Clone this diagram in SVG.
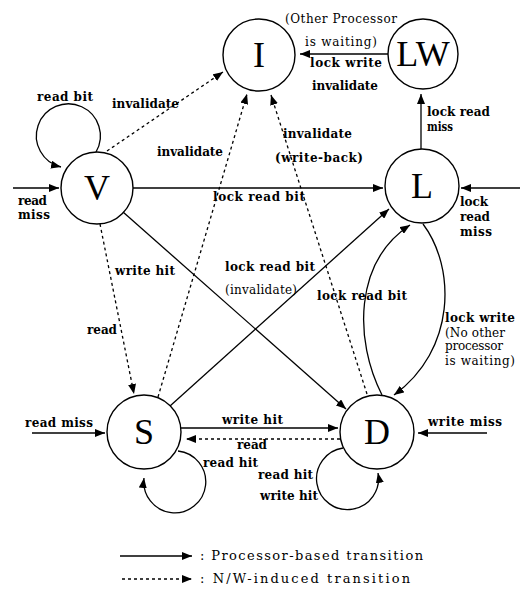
<svg xmlns="http://www.w3.org/2000/svg" width="520" height="593" viewBox="0 0 520 593">
<style>
.n circle{fill:none;stroke:#000;stroke-width:1.4}
.nt{font-family:"Liberation Serif",serif;font-size:36px;text-anchor:middle;fill:#000}
.e{fill:none;stroke:#000;stroke-width:1.3}
.d{stroke-dasharray:3 3}
.lb{font-family:"DejaVu Serif","Liberation Serif",serif;font-weight:bold;font-size:12px;fill:#000}
.ln{font-family:"DejaVu Serif","Liberation Serif",serif;font-size:12px;fill:#000}
.lg{font-family:"DejaVu Serif","Liberation Serif",serif;font-size:13px;fill:#000}
</style>
<defs>
<marker id="ah" viewBox="0 0 10 8" refX="10" refY="4" markerWidth="10" markerHeight="8" markerUnits="userSpaceOnUse" orient="auto"><path d="M0,0 L10,4 L0,8 z" fill="#000"/></marker>
</defs>
<rect width="520" height="593" fill="#fff"/>
<g id="node-I" class="n"><circle cx="259" cy="55" r="36"/><text class="nt" x="259" y="67">I</text></g>
<g id="node-LW" class="n"><circle cx="423" cy="54" r="35"/><text class="nt" x="423" y="66">LW</text></g>
<g id="node-V" class="n"><circle cx="97" cy="188" r="36"/><text class="nt" x="97" y="200">V</text></g>
<g id="node-L" class="n"><circle cx="422" cy="186" r="37"/><text class="nt" x="422" y="198">L</text></g>
<g id="node-S" class="n"><circle cx="144" cy="432" r="37"/><text class="nt" x="144" y="444">S</text></g>
<g id="node-D" class="n"><circle cx="377" cy="432" r="37"/><text class="nt" x="377" y="444">D</text></g>
<g id="connectors" marker-end="url(#ah)">
<path class="e" d="M96 152 A32 32 0 1 0 61 167"/>
<path class="e" d="M13 188 L59 188"/>
<path class="e d" d="M107 151 L223 72"/>
<path class="e d" d="M158 397 L247 94"/>
<path class="e d" d="M367 394 L271 95"/>
<path class="e d" d="M100 224 L134 394"/>
<path class="e" d="M133 188 L383 188"/>
<path class="e" d="M123 212 L346 409"/>
<path class="e" d="M170 406 L389 209"/>
<path class="e" d="M421 149 L421 94"/>
<path class="e" d="M388 54 L300 54"/>
<path class="e" d="M520 188 L461 188"/>
<path class="e" d="M423 224 C456 268 456 350 394 395"/>
<path class="e" d="M382 395 C354 340 354 262 410 225"/>
<path class="e" d="M181 428 L338 428"/>
<path class="e d" d="M340 439 L186 439"/>
<path class="e" d="M487 433 L418 433"/>
<path class="e" d="M32 433 L105 433"/>
<path class="e" d="M178 451 A31 31 0 1 1 144 478"/>
<path class="e" d="M343 448 A31 31 0 1 0 378 473"/>
<path class="e" d="M120 556 L192 556"/>
<path class="e d" d="M122 579 L192 579"/>
</g>
<g id="labels">
<text class="lb" x="37" y="101" textLength="56">read bit</text>
<text class="lb" x="112" y="108" textLength="67">invalidate</text>
<text class="lb" x="157" y="156" textLength="66">invalidate</text>
<text class="ln" x="285" y="23" textLength="112">(Other Processor</text>
<text class="ln" x="305" y="46" textLength="72">is waiting)</text>
<text class="lb" x="310" y="67" textLength="72">lock write</text>
<text class="lb" x="312" y="90" textLength="66">invalidate</text>
<text class="lb" x="427" y="116" textLength="63">lock read</text>
<text class="lb" x="427" y="131" textLength="26" lengthAdjust="spacingAndGlyphs">miss</text>
<text class="lb" x="283" y="138" textLength="69">invalidate</text>
<text class="lb" x="275" y="162" textLength="88">(write-back)</text>
<text class="lb" x="213" y="201" textLength="92">lock read bit</text>
<text class="lb" x="18" y="205" textLength="29">read</text>
<text class="lb" x="18" y="219" textLength="32">miss</text>
<text class="lb" x="460" y="206" textLength="28">lock</text>
<text class="lb" x="460" y="221" textLength="30">read</text>
<text class="lb" x="460" y="236" textLength="32">miss</text>
<text class="lb" x="115" y="275" textLength="60">write hit</text>
<text class="lb" x="87" y="334" textLength="30">read</text>
<text class="lb" x="225" y="271" textLength="90">lock read bit</text>
<text class="ln" x="225" y="294" textLength="72">(invalidate)</text>
<text class="lb" x="317" y="300" textLength="90">lock read bit</text>
<text class="lb" x="445" y="322" textLength="70">lock write</text>
<text class="ln" x="445" y="337" textLength="60">(No other</text>
<text class="ln" x="445" y="350" textLength="58">processor</text>
<text class="ln" x="445" y="365" textLength="70">is waiting)</text>
<text class="lb" x="25" y="427" textLength="68">read miss</text>
<text class="lb" x="222" y="424" textLength="61">write hit</text>
<text class="lb" x="237" y="449" textLength="30">read</text>
<text class="lb" x="203" y="467" textLength="55">read hit</text>
<text class="lb" x="258" y="479" textLength="55">read hit</text>
<text class="lb" x="260" y="500" textLength="58">write hit</text>
<text class="lb" x="428" y="426" textLength="74">write miss</text>
<text class="lg" x="200" y="560" textLength="223">: Processor-based transition</text>
<text class="lg" x="200" y="583" textLength="210">: N/W-induced transition</text>
</g>
</svg>
